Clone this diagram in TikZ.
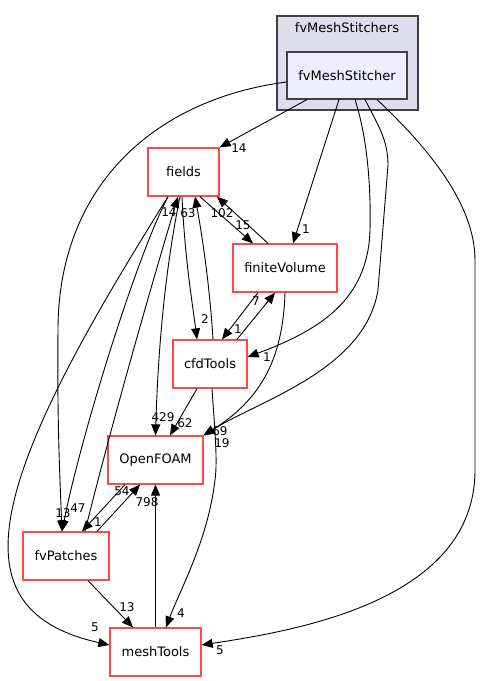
\documentclass[tikz,border=0pt]{standalone}
\usepackage{fontspec}
\setmainfont{DejaVu Sans}
\usetikzlibrary{arrows.meta,calc}
\definecolor{nodered}{RGB}{255,72,72}
\definecolor{clfill}{RGB}{221,221,238}
\definecolor{stfill}{RGB}{238,238,255}
\definecolor{bordergray}{RGB}{64,64,64}
\tikzset{
  dirnode/.style={draw=nodered,line width=1.3pt,fill=white,inner sep=0pt,minimum height=48pt,font=\fontsize{13}{15}\selectfont},
  edge/.style={line width=0.9pt,-{Triangle[length=11pt,width=9pt]}},
  lab/.style={inner sep=0pt,font=\fontsize{12}{14}\selectfont},
}
\begin{document}
\begin{tikzpicture}[x=1pt,y=-1pt]
\useasboundingbox (0,0) rectangle (481,681);
% cluster
\node[draw=bordergray,fill=clfill,line width=1.2pt,minimum width=141pt,minimum height=94pt,inner sep=0pt] (cl) at (347.5,63) {};
\node[font=\fontsize{13}{15}\selectfont,inner sep=0pt] (cllab) at (347,28) {fvMeshStitchers};
\node[draw=bordergray,fill=stfill,line width=1.2pt,minimum width=120pt,minimum height=47pt,inner sep=0pt,font=\fontsize{13}{15}\selectfont] (st) at (347,75.5) {fvMeshStitcher};
% nodes
\node[dirnode,minimum width=71pt] (fields) at (183.5,172) {fields};
\node[dirnode,minimum width=104pt] (fv) at (285,268) {finiteVolume};
\node[dirnode,minimum width=74pt] (cfd) at (210,364) {cfdTools};
\node[dirnode,minimum width=95pt] (of) at (155.5,460) {OpenFOAM};
\node[dirnode,minimum width=86pt] (fvp) at (66,556) {fvPatches};
\node[dirnode,minimum width=91pt] (mt) at (155.5,652) {meshTools};
% edges from fvMeshStitcher
\draw[edge] ([xshift=-40pt]st.south) -- (fields.north east);
\draw[edge] ([xshift=-8pt]st.south) -- ([xshift=8pt]fv.north);
\draw[edge] ([xshift=8pt]st.south) .. controls (368,140) and (371,190) .. (370,230) .. controls (368,300) and (320,330) .. ([yshift=7pt]cfd.east);
\draw[edge] ([xshift=18pt]st.south) .. controls (378,125) and (388,140) .. (388,165) -- (378,290) .. controls (365,370) and (260,400) .. (of.north east);
\draw[edge] ([xshift=30pt]st.south) .. controls (420,140) and (475,200) .. (475,260) -- (475,470) .. controls (475,600) and (300,630) .. ([yshift=7pt]mt.east);
\draw[edge] ([yshift=-6.5pt]st.west) .. controls (150,100) and (58,190) .. (58,330) .. controls (57,420) and (60,480) .. ([xshift=-4pt]fvp.north);
% fields edges
\draw[edge] ([xshift=16.5pt]fields.south) -- ([xshift=-32pt]fv.north);
\draw[edge] ([xshift=-17pt]fv.north) -- ([xshift=33.5pt]fields.south);
\draw[edge] ([xshift=-1.5pt]fields.south) .. controls (185,260) and (192,300) .. ([xshift=-13pt]cfd.north);
\draw[edge] ([xshift=3pt]cfd.north) .. controls (210,290) and (203,240) .. ([xshift=11.5pt]fields.south);
\draw[edge] ([xshift=-3.5pt]fields.south) .. controls (165,270) and (158,350) .. (of.north);
\draw[edge] ([xshift=-15.5pt]fields.south) .. controls (135,260) and (80,440) .. ([xshift=-4pt]fvp.north);
\draw[edge] ([xshift=19pt]fvp.north) .. controls (110,430) and (150,290) .. ([xshift=-5.5pt]fields.south);
\draw[edge] ([xshift=-15.5pt]fields.south) .. controls (110,290) and (30,420) .. (12,510) .. controls (-2,580) and (20,625) .. ([yshift=7pt]mt.west);
% finiteVolume / cfdTools
\draw[edge] ([xshift=-27pt]fv.south) -- ([xshift=12pt]cfd.north);
\draw[edge] ([xshift=27pt]cfd.north) -- ([xshift=-10pt]fv.south);
\draw[edge] (fv.south) .. controls (283,360) and (260,400) .. (of.north east);
\draw[edge] ([xshift=-13pt]cfd.south) -- ([xshift=14.5pt]of.north);
\draw[edge] ([xshift=2pt]cfd.south) .. controls (214,420) and (218,460) .. (215,480) .. controls (208,540) and (180,590) .. ([xshift=10.5pt]mt.north);
% fvPatches / OpenFOAM / meshTools
\draw[edge] ([xshift=31pt]fvp.north) -- ([xshift=-15.5pt]of.south);
\draw[edge] ([xshift=-30.5pt]of.south) -- ([xshift=16pt]fvp.north);
\draw[edge] ([xshift=22pt]fvp.south) -- ([xshift=-22.5pt]mt.north);
\draw[edge] (mt.north) -- (of.south);
% labels
\node[lab] (l1) at (239,148) {14};
\node[lab] (l2) at (306,229) {1};
\node[lab] (l3) at (267,357) {1};
\node[lab] (l4) at (222,443) {19};
\node[lab] (l5) at (220,650) {5};
\node[lab] (l6) at (63,513) {13};
\node[lab] (l7) at (78,508) {47};
\node[lab] (l8) at (243,225) {15};
\node[lab] (l9) at (222,213) {102};
\node[lab] (l10) at (205,319) {2};
\node[lab] (l11) at (188,213) {63};
\node[lab] (l12) at (163,417) {429};
\node[lab] (l13) at (169,212) {14};
\node[lab] (l14) at (95,627) {5};
\node[lab] (l15) at (238,329) {1};
\node[lab] (l16) at (256,301) {7};
\node[lab] (l17) at (220,431) {69};
\node[lab] (l18) at (185,423) {62};
\node[lab] (l19) at (181,613) {4};
\node[lab] (l20) at (122,491) {54};
\node[lab] (l21) at (98,522) {1};
\node[lab] (l22) at (127,607) {13};
\node[lab] (l23) at (147,502) {798};
\end{tikzpicture}
\end{document}
